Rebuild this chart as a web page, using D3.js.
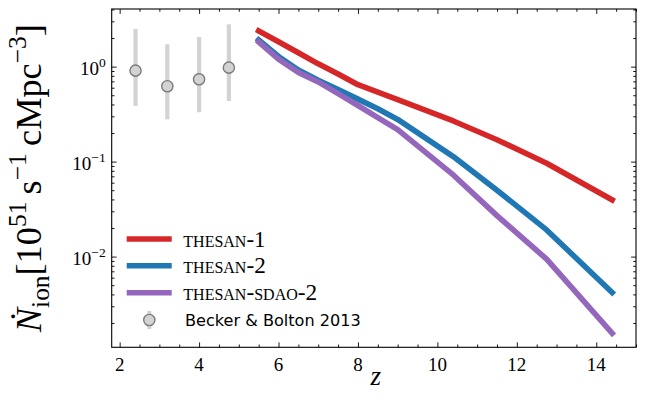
<!DOCTYPE html>
<html><head><meta charset="utf-8">
<script src="https://cdn.jsdelivr.net/npm/d3@7"></script>
<style>
body{margin:0;background:#fff} svg{display:block}
.serif{font-family:"Liberation Serif","Times New Roman",serif}
.sans{font-family:"DejaVu Sans",sans-serif}
</style>
</head><body><svg id="c" width="654" height="407"></svg>
<script>
// ---- data ----
const zSim = [5.5, 6, 6.5, 7, 7.5, 8, 8.5, 9, 10.4, 11.5, 12.75, 14.4];
const thesan1 = [2.38, 1.83, 1.40, 1.07, 0.838, 0.645, 0.54, 0.45, 0.268, 0.17, 0.096, 0.0395];
const thesan2 = [1.91, 1.28, 0.92, 0.72, 0.575, 0.455, 0.36, 0.278, 0.113, 0.05, 0.0191, 0.00418];
const thesanSdao2 = [1.82, 1.20, 0.87, 0.69, 0.52, 0.39, 0.29, 0.217, 0.0724, 0.027, 0.0094, 0.00156];
const obsZ = [2.4, 3.2, 4.0, 4.75];
const obsVal = [0.908, 0.622, 0.736, 0.976];
const obsLo = [0.386, 0.279, 0.331, 0.435];
const obsHi = [2.49, 1.72, 2.05, 2.79];
const seriesNames = ["thesan-1", "thesan-2", "thesan-sdao-2"];
const seriesColors = ["#d62728", "#1f77b4", "#9467bd"];
const obsName = "Becker & Bolton 2013";
const xTicks = [2, 4, 6, 8, 10, 12, 14];
const xTickLabels = ["2", "4", "6", "8", "10", "12", "14"];
const yTicks = [1e-2, 1e-1, 1];
const yTickExp = ["\u22122", "\u22121", "0"];

// ---- layout ----
const L = 111.7, R = 636, T = 9, B = 347.3;
const svg = d3.select("#c");
const x = d3.scaleLinear().domain([1.8, 15]).range([L, R]);
const y = d3.scaleLog().domain([Math.pow(10, -2.955), Math.pow(10, 0.607)]).range([B, T]);

// minor ticks
const xMinor = d3.range(2, 15.01, 0.5).filter(v => Math.abs(v - Math.round(v / 2) * 2) > 1e-6);
const yMinor = [];
for (let d = -3; d <= 0; d++) for (let k = 2; k <= 9; k++) {
  const v = k * Math.pow(10, d);
  if (v > y.domain()[0] && v < y.domain()[1]) yMinor.push(v);
}
const MJ = 4.9, MN = 2.8;
function axisG(axis, tx, ty) {
  const g = svg.append("g").attr("transform", `translate(${tx},${ty})`).call(axis);
  g.select(".domain").remove();
  g.selectAll("line").attr("stroke", "#000").attr("stroke-width", 0.9);
  g.selectAll("text").remove();
  return g;
}
axisG(d3.axisBottom(x).tickValues(xTicks).tickSizeInner(-MJ).tickSizeOuter(0), 0, B);
axisG(d3.axisBottom(x).tickValues(xMinor).tickSizeInner(-MN).tickSizeOuter(0), 0, B);
axisG(d3.axisTop(x).tickValues(xTicks).tickSizeInner(-MJ).tickSizeOuter(0), 0, T);
axisG(d3.axisTop(x).tickValues(xMinor).tickSizeInner(-MN).tickSizeOuter(0), 0, T);
axisG(d3.axisLeft(y).tickValues(yTicks).tickSizeInner(-MJ).tickSizeOuter(0), L, 0);
axisG(d3.axisLeft(y).tickValues(yMinor).tickSizeInner(-MN).tickSizeOuter(0), L, 0);
axisG(d3.axisRight(y).tickValues(yTicks).tickSizeInner(-MJ).tickSizeOuter(0), R, 0);
axisG(d3.axisRight(y).tickValues(yMinor).tickSizeInner(-MN).tickSizeOuter(0), R, 0);

// x tick labels
svg.append("g").selectAll("text").data(xTicks).join("text")
  .attr("class", "serif")
  .attr("x", d => x(d)).attr("y", 371)
  .attr("text-anchor", "middle").attr("font-size", 19)
  .text((d, i) => xTickLabels[i]);

// y tick labels
yTicks.forEach((v, i) => {
  const t = svg.append("text").attr("class", "serif").attr("x", L - 6).attr("y", y(v) + 8)
    .attr("text-anchor", "end").attr("font-size", 19);
  t.append("tspan").text("10");
  t.append("tspan").attr("dy", -8).attr("font-size", 13.5).text(yTickExp[i]);
});

// observations (error bars + markers)
const obs = obsZ.map((z, i) => ({z, v: obsVal[i], lo: obsLo[i], hi: obsHi[i]}));
svg.append("g").selectAll("line").data(obs).join("line")
  .attr("x1", d => x(d.z)).attr("x2", d => x(d.z))
  .attr("y1", d => y(d.lo)).attr("y2", d => y(d.hi))
  .attr("stroke", "#d3d3d3").attr("stroke-width", 4.2);
svg.append("g").selectAll("circle").data(obs).join("circle")
  .attr("cx", d => x(d.z)).attr("cy", d => y(d.v)).attr("r", 5.6)
  .attr("fill", "#d3d3d3").attr("stroke", "#7a7a7a").attr("stroke-width", 1.4);

// simulation lines
const line = d3.line().x(d => x(d[0])).y(d => y(d[1]));
[thesan1, thesan2, thesanSdao2].forEach((vals, i) => {
  svg.append("path").datum(zSim.map((z, j) => [z, vals[j]]))
    .attr("d", line).attr("fill", "none").attr("stroke", seriesColors[i])
    .attr("stroke-width", 5.6).attr("stroke-linejoin", "round").attr("stroke-linecap", "square");
});

// frame
svg.append("rect").attr("x", L).attr("y", T).attr("width", R - L).attr("height", B - T)
  .attr("fill", "none").attr("stroke", "#000").attr("stroke-width", 1.1);

// legend
function fitText(t, target) {
  const w = t.node().getComputedTextLength();
  const fs = parseFloat(t.attr("font-size"));
  t.attr("font-size", fs * target / w);
}
const legY = [239, 265.7, 292.7];
const legW = [83, 84, 137];
seriesNames.forEach((n, i) => {
  svg.append("line").attr("x1", 126.7).attr("x2", 171.7).attr("y1", legY[i]).attr("y2", legY[i])
    .attr("stroke", seriesColors[i]).attr("stroke-width", 5.6);
  const t = svg.append("text").attr("class", "serif").attr("x", 183.3).attr("y", legY[i] + 7.5)
    .attr("font-size", 17).style("font-variant", "small-caps").text(n);
  fitText(t, legW[i]);
});
svg.append("line").attr("x1", 149.3).attr("x2", 149.3).attr("y1", 311).attr("y2", 329)
  .attr("stroke", "#d3d3d3").attr("stroke-width", 4.2);
svg.append("circle").attr("cx", 149.3).attr("cy", 320).attr("r", 5.6)
  .attr("fill", "#d3d3d3").attr("stroke", "#7a7a7a").attr("stroke-width", 1.4);
const bt = svg.append("text").attr("class", "sans").attr("x", 185).attr("y", 326)
  .attr("font-size", 15).text(obsName);
fitText(bt, 176);

// axis labels
svg.append("text").attr("class", "serif").attr("x", (L + R) / 2 + 2).attr("y", 385).attr("text-anchor", "middle")
  .attr("font-style", "italic").attr("font-size", 27).text("z");

function buildYLabel(fs) {
  svg.select("#ylab").remove();
  const t = svg.append("text").attr("id", "ylab").attr("class", "serif")
    .attr("transform", `translate(41,${(T + B) / 2}) rotate(-90)`)
    .attr("text-anchor", "middle").attr("font-size", fs);
  const s = fs * 0.7, up = fs * 0.42, dn = fs * 0.22;
  t.append("tspan").attr("font-style", "italic").text("\u1E44");
  t.append("tspan").attr("font-size", s).attr("dy", dn).text("ion");
  t.append("tspan").attr("dy", -dn).text("[10");
  t.append("tspan").attr("font-size", s).attr("dy", -up).text("51");
  t.append("tspan").attr("dy", up).text("\u2009s");
  t.append("tspan").attr("font-size", s).attr("dy", -up).text("\u22121");
  t.append("tspan").attr("dy", up).text("\u2009cMpc");
  t.append("tspan").attr("font-size", s).attr("dy", -up).text("\u22123");
  t.append("tspan").attr("dy", up).text("]");
  return t;
}
let yl = buildYLabel(26);
const wl = yl.node().getComputedTextLength();
buildYLabel(26 * 308 / wl);
</script></body></html>
